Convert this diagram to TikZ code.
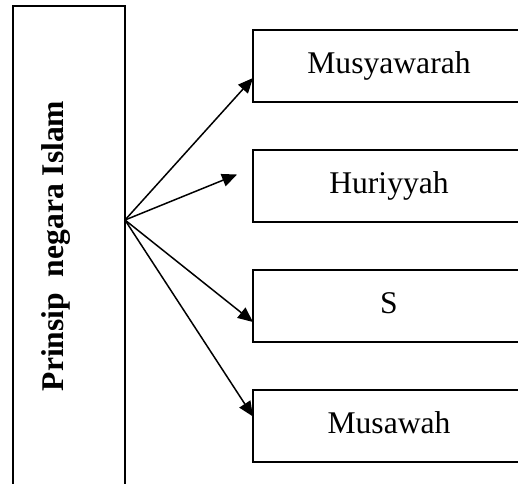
\documentclass[tikz,border=0pt]{standalone}
\usepackage{fontspec}
\setmainfont{Liberation Serif}
\usetikzlibrary{arrows.meta, positioning}

\begin{document}
\begin{tikzpicture}[x=0.5pt, y=-0.5pt, node distance=24.25pt,
  kotak/.style={draw, line width=1pt, inner sep=0pt, outer sep=0pt,
    minimum width=136pt, minimum height=35.75pt,
    text height=11pt, text depth=4pt, font=\fontsize{15.8}{19}\selectfont},
  panah/.style={-{Triangle[length=7.5pt, width=6.5pt]}, line width=0.75pt}]

\useasboundingbox (0,0) rectangle (518,483);
\clip (0,0) rectangle (518,483);

% main box on the left
\node[draw, line width=1pt, inner sep=0pt, outer sep=0pt,
  minimum width=56pt, minimum height=264pt] (prinsip) at (69,270) {};
\node[rotate=90, font=\fontsize{15.8}{19}\selectfont\bfseries] (judul) at (56,246) {Prinsip~ negara Islam};
\coordinate (asal) at (125,220);

% the four principles
\node[kotak] (musy) at (389,66) {Musyawarah};
\node[kotak, below=of musy] (huri) {Huriyyah};
\node[kotak, below=of huri] (s) {S};
\node[kotak, below=of s] (musa) {Musawah};

% arrows
\draw[panah] (asal) -- ([yshift=-6pt]musy.west);
\draw[panah] (asal) -- ([xshift=-8pt, yshift=5.75pt]huri.west);
\draw[panah] (asal) -- ([yshift=-8pt]s.west);
\draw[panah] (asal) -- ([yshift=4.75pt]musa.west);

\end{tikzpicture}
\end{document}
